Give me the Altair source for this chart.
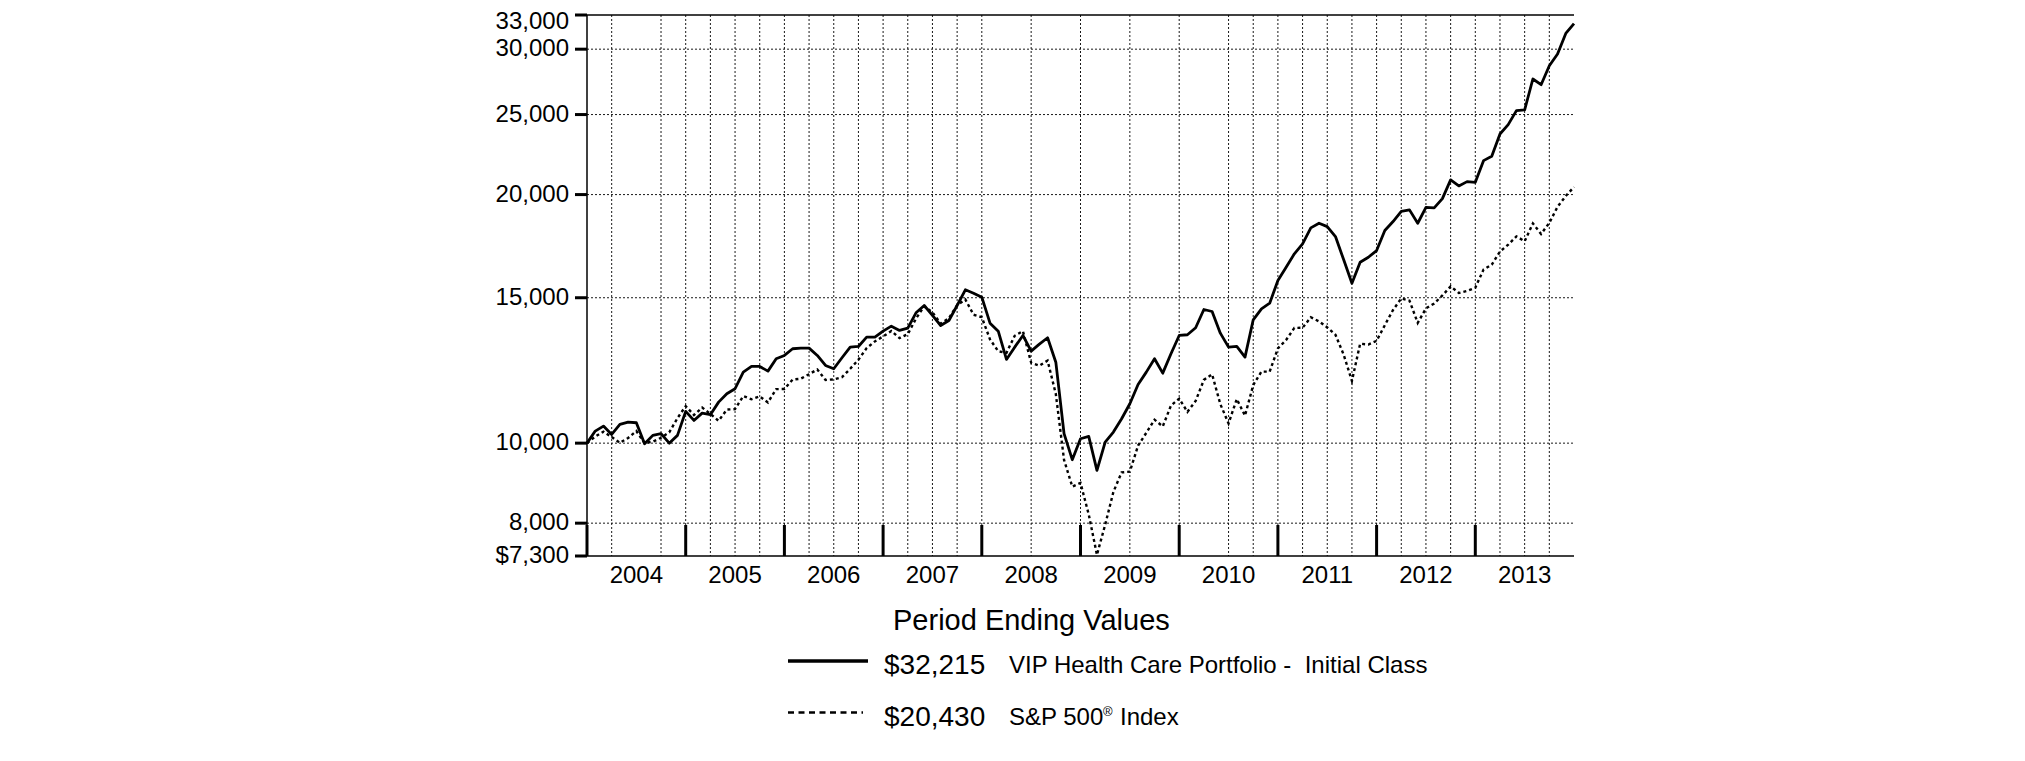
import altair as alt
import pandas as pd

FONT = "Liberation Sans"
W, H = 987, 541

# ---- data (month-end values, month 0 = Dec 2003) ----
start_value = 10000
vip_2004 = [10342, 10487, 10247, 10536, 10604, 10585, 9985, 10219, 10267, 10000, 10219, 10925]
vip_2005 = [10654, 10873, 10825, 11212, 11477, 11638, 12190, 12384, 12384, 12224, 12653, 12771]
vip_2006 = [13011, 13033, 13033, 12771, 12418, 12306, 12689, 13069, 13095, 13439, 13439, 13665]
vip_2007 = [13857, 13692, 13780, 14383, 14679, 14276, 13883, 14077, 14679, 15336, 15191, 15023]
vip_2008 = [13973, 13665, 12629, 13069, 13502, 12925, 13179, 13416, 12533, 10267, 9549, 10124]
vip_2009 = [10190, 9269, 10030, 10313, 10705, 11162, 11779, 12190, 12653, 12155, 12830, 13502]
vip_2010 = [13529, 13795, 14516, 14435, 13590, 13069, 13095, 12711, 14105, 14545, 14773, 15739]
vip_2011 = [16334, 16953, 17432, 18227, 18463, 18292, 17791, 16673, 15621, 16562, 16794, 17110]
vip_2012 = [18091, 18550, 19090, 19165, 18463, 19303, 19271, 19778, 20836, 20489, 20736, 20697]
vip_2013 = [21986, 22251, 23684, 24306, 25275, 25323, 27607, 27172, 28649, 29598, 31348, 32215]

sp_2004 = [10184, 10326, 10170, 10010, 10147, 10344, 10002, 10042, 10150, 10306, 10723, 11088]
sp_2005 = [10817, 11044, 10849, 10643, 10981, 10996, 11405, 11301, 11393, 11203, 11626, 11630]
sp_2006 = [11938, 11970, 12119, 12281, 11928, 11945, 12019, 12305, 12622, 13034, 13281, 13467]
sp_2007 = [13670, 13402, 13552, 14153, 14647, 14404, 13957, 14166, 14696, 14930, 14306, 14207]
sp_2008 = [13355, 12921, 12865, 13492, 13667, 12515, 12410, 12590, 11468, 9543, 8858, 8952]
sp_2009 = [8197, 7324, 7966, 8728, 9216, 9235, 9933, 10292, 10676, 10477, 11106, 11320]
sp_2010 = [10912, 11250, 11929, 12117, 11149, 10566, 11307, 10797, 11760, 12207, 12208, 13024]
sp_2011 = [13333, 13790, 13795, 14204, 14044, 13809, 13529, 12794, 11895, 13195, 13166, 13300]
sp_2012 = [13896, 14496, 14973, 14879, 13985, 14561, 14763, 15095, 15485, 15199, 15287, 15426]
sp_2013 = [16225, 16446, 17063, 17392, 17799, 17560, 18454, 17919, 18482, 19332, 19922, 20430]

vip = [start_value] + vip_2004 + vip_2005 + vip_2006 + vip_2007 + vip_2008 + vip_2009 + vip_2010 + vip_2011 + vip_2012 + vip_2013
sp = [start_value] + sp_2004 + sp_2005 + sp_2006 + sp_2007 + sp_2008 + sp_2009 + sp_2010 + sp_2011 + sp_2012 + sp_2013
months = list(range(len(vip)))

years = ["2004", "2005", "2006", "2007", "2008", "2009", "2010", "2011", "2012", "2013"]
year_mid_months = [6, 18, 30, 42, 54, 66, 78, 90, 102, 114]
year_end_months = [0, 12, 24, 36, 48, 60, 72, 84, 96, 108]
grid_months = [3, 9, 12, 15, 18, 21, 24, 27, 30, 33, 36, 39, 42, 45, 48, 54, 60, 66, 72,
               78, 81, 84, 87, 90, 93, 96, 99, 102, 105, 108, 111, 114, 117]

y_tick_values = [7300, 8000, 10000, 15000, 20000, 25000, 30000, 33000]
y_tick_labels = ["$7,300", "8,000", "10,000", "15,000", "20,000", "25,000", "30,000", "33,000"]
y_grid_values = [8000, 10000, 15000, 20000, 25000, 30000]

legend_title = "Period Ending Values"
series_names = ["VIP Health Care Portfolio -\u00a0 Initial Class", "S&P 500"]
series_end_labels = ["$32,215", "$20,430"]

# ---- chart ----
df = pd.DataFrame({"m": months, "vip": vip, "sp": sp})

xscale = alt.Scale(domain=[0, 120], nice=False, zero=False)
yscale = alt.Scale(type="log", domain=[7300, 33000], nice=False)
X = lambda f: alt.X(f, scale=xscale, axis=None)
Y = lambda f: alt.Y(f, scale=yscale, axis=None)

vgrid = alt.Chart(pd.DataFrame({"m": grid_months})).mark_rule(
    color="black", strokeWidth=1, strokeDash=[2, 2], opacity=0.9
).encode(x=X("m:Q"), y=alt.value(0), y2=alt.value(H))

hgrid = alt.Chart(pd.DataFrame({"g": y_grid_values})).mark_rule(
    color="black", strokeWidth=1, strokeDash=[2, 2], opacity=0.9
).encode(y=Y("g:Q"), x=alt.value(0), x2=alt.value(W))

vip_line = alt.Chart(df).mark_line(color="black", strokeWidth=2.8, strokeJoin="round").encode(
    x=X("m:Q"), y=Y("vip:Q")
)
sp_line = alt.Chart(df).mark_line(color="black", strokeWidth=2.4, strokeDash=[3, 3]).encode(
    x=X("m:Q"), y=Y("sp:Q")
)

yr_ticks = alt.Chart(pd.DataFrame({"m": year_end_months})).mark_rule(
    color="black", strokeWidth=3
).encode(x=X("m:Q"), y=alt.value(H), y2=alt.value(H - 31))

frame = pd.DataFrame({"a": [0]})
top_rule = alt.Chart(frame).mark_rule(color="black", strokeWidth=1.5).encode(
    x=alt.value(0), x2=alt.value(W), y=alt.value(0))
left_rule = alt.Chart(frame).mark_rule(color="black", strokeWidth=1.5).encode(
    x=alt.value(0), y=alt.value(0), y2=alt.value(H))
bottom_rule = alt.Chart(frame).mark_rule(color="black", strokeWidth=1.5).encode(
    x=alt.value(0), x2=alt.value(W), y=alt.value(H))

ytick_df = pd.DataFrame({"v": y_tick_values, "lab": y_tick_labels})
y_ticks = alt.Chart(ytick_df).mark_rule(color="black", strokeWidth=3).encode(
    y=Y("v:Q"), x=alt.value(-12), x2=alt.value(0))
y_labels = alt.Chart(ytick_df.iloc[:-1]).mark_text(
    align="right", baseline="middle", font=FONT, fontSize=24, color="black"
).encode(y=Y("v:Q"), x=alt.value(-18), text="lab:N")
# the top label sits at the very edge of the page: nudge it down so it is not cut
y_label_top = alt.Chart(ytick_df.iloc[-1:]).mark_text(
    align="right", baseline="middle", font=FONT, fontSize=24, color="black", dy=7
).encode(y=Y("v:Q"), x=alt.value(-18), text="lab:N")

x_labels = alt.Chart(pd.DataFrame({"m": year_mid_months, "lab": years})).mark_text(
    align="center", baseline="alphabetic", font=FONT, fontSize=24, color="black"
).encode(x=X("m:Q"), y=alt.value(H + 27), text="lab:N")


def txt(label, x, y, size):
    return alt.Chart(pd.DataFrame({"t": [label]})).mark_text(
        align="left", baseline="alphabetic", font=FONT, fontSize=size, color="black"
    ).encode(text="t:N", x=alt.value(x), y=alt.value(y))


leg_solid = alt.Chart(frame).mark_rule(color="black", strokeWidth=3.5).encode(
    x=alt.value(201), x2=alt.value(281), y=alt.value(646))
leg_dash = alt.Chart(frame).mark_rule(color="black", strokeWidth=2.5, strokeDash=[6, 4.5]).encode(
    x=alt.value(201), x2=alt.value(276), y=alt.value(697.5))

legend = [
    txt(legend_title, 306, 615, 29),
    leg_solid,
    txt(series_end_labels[0], 297, 659, 28),
    txt(series_names[0], 422, 658, 24),
    leg_dash,
    txt(series_end_labels[1], 297, 711, 28),
    txt(series_names[1], 422, 710, 24),
    txt("\u00ae", 516, 701, 13),
    txt("Index", 533, 710, 24),
]

chart = alt.layer(
    vgrid, hgrid, vip_line, sp_line, yr_ticks, top_rule, left_rule, bottom_rule,
    y_ticks, y_labels, y_label_top, x_labels, *legend
).properties(
    width=W, height=H,
    autosize=alt.AutoSizeParams(type="none"),
    padding={"left": 579, "top": 7, "right": 20, "bottom": 200},
).configure_view(strokeWidth=0)

chart.save("out.html", embed_options={"renderer": "svg", "actions": False})
